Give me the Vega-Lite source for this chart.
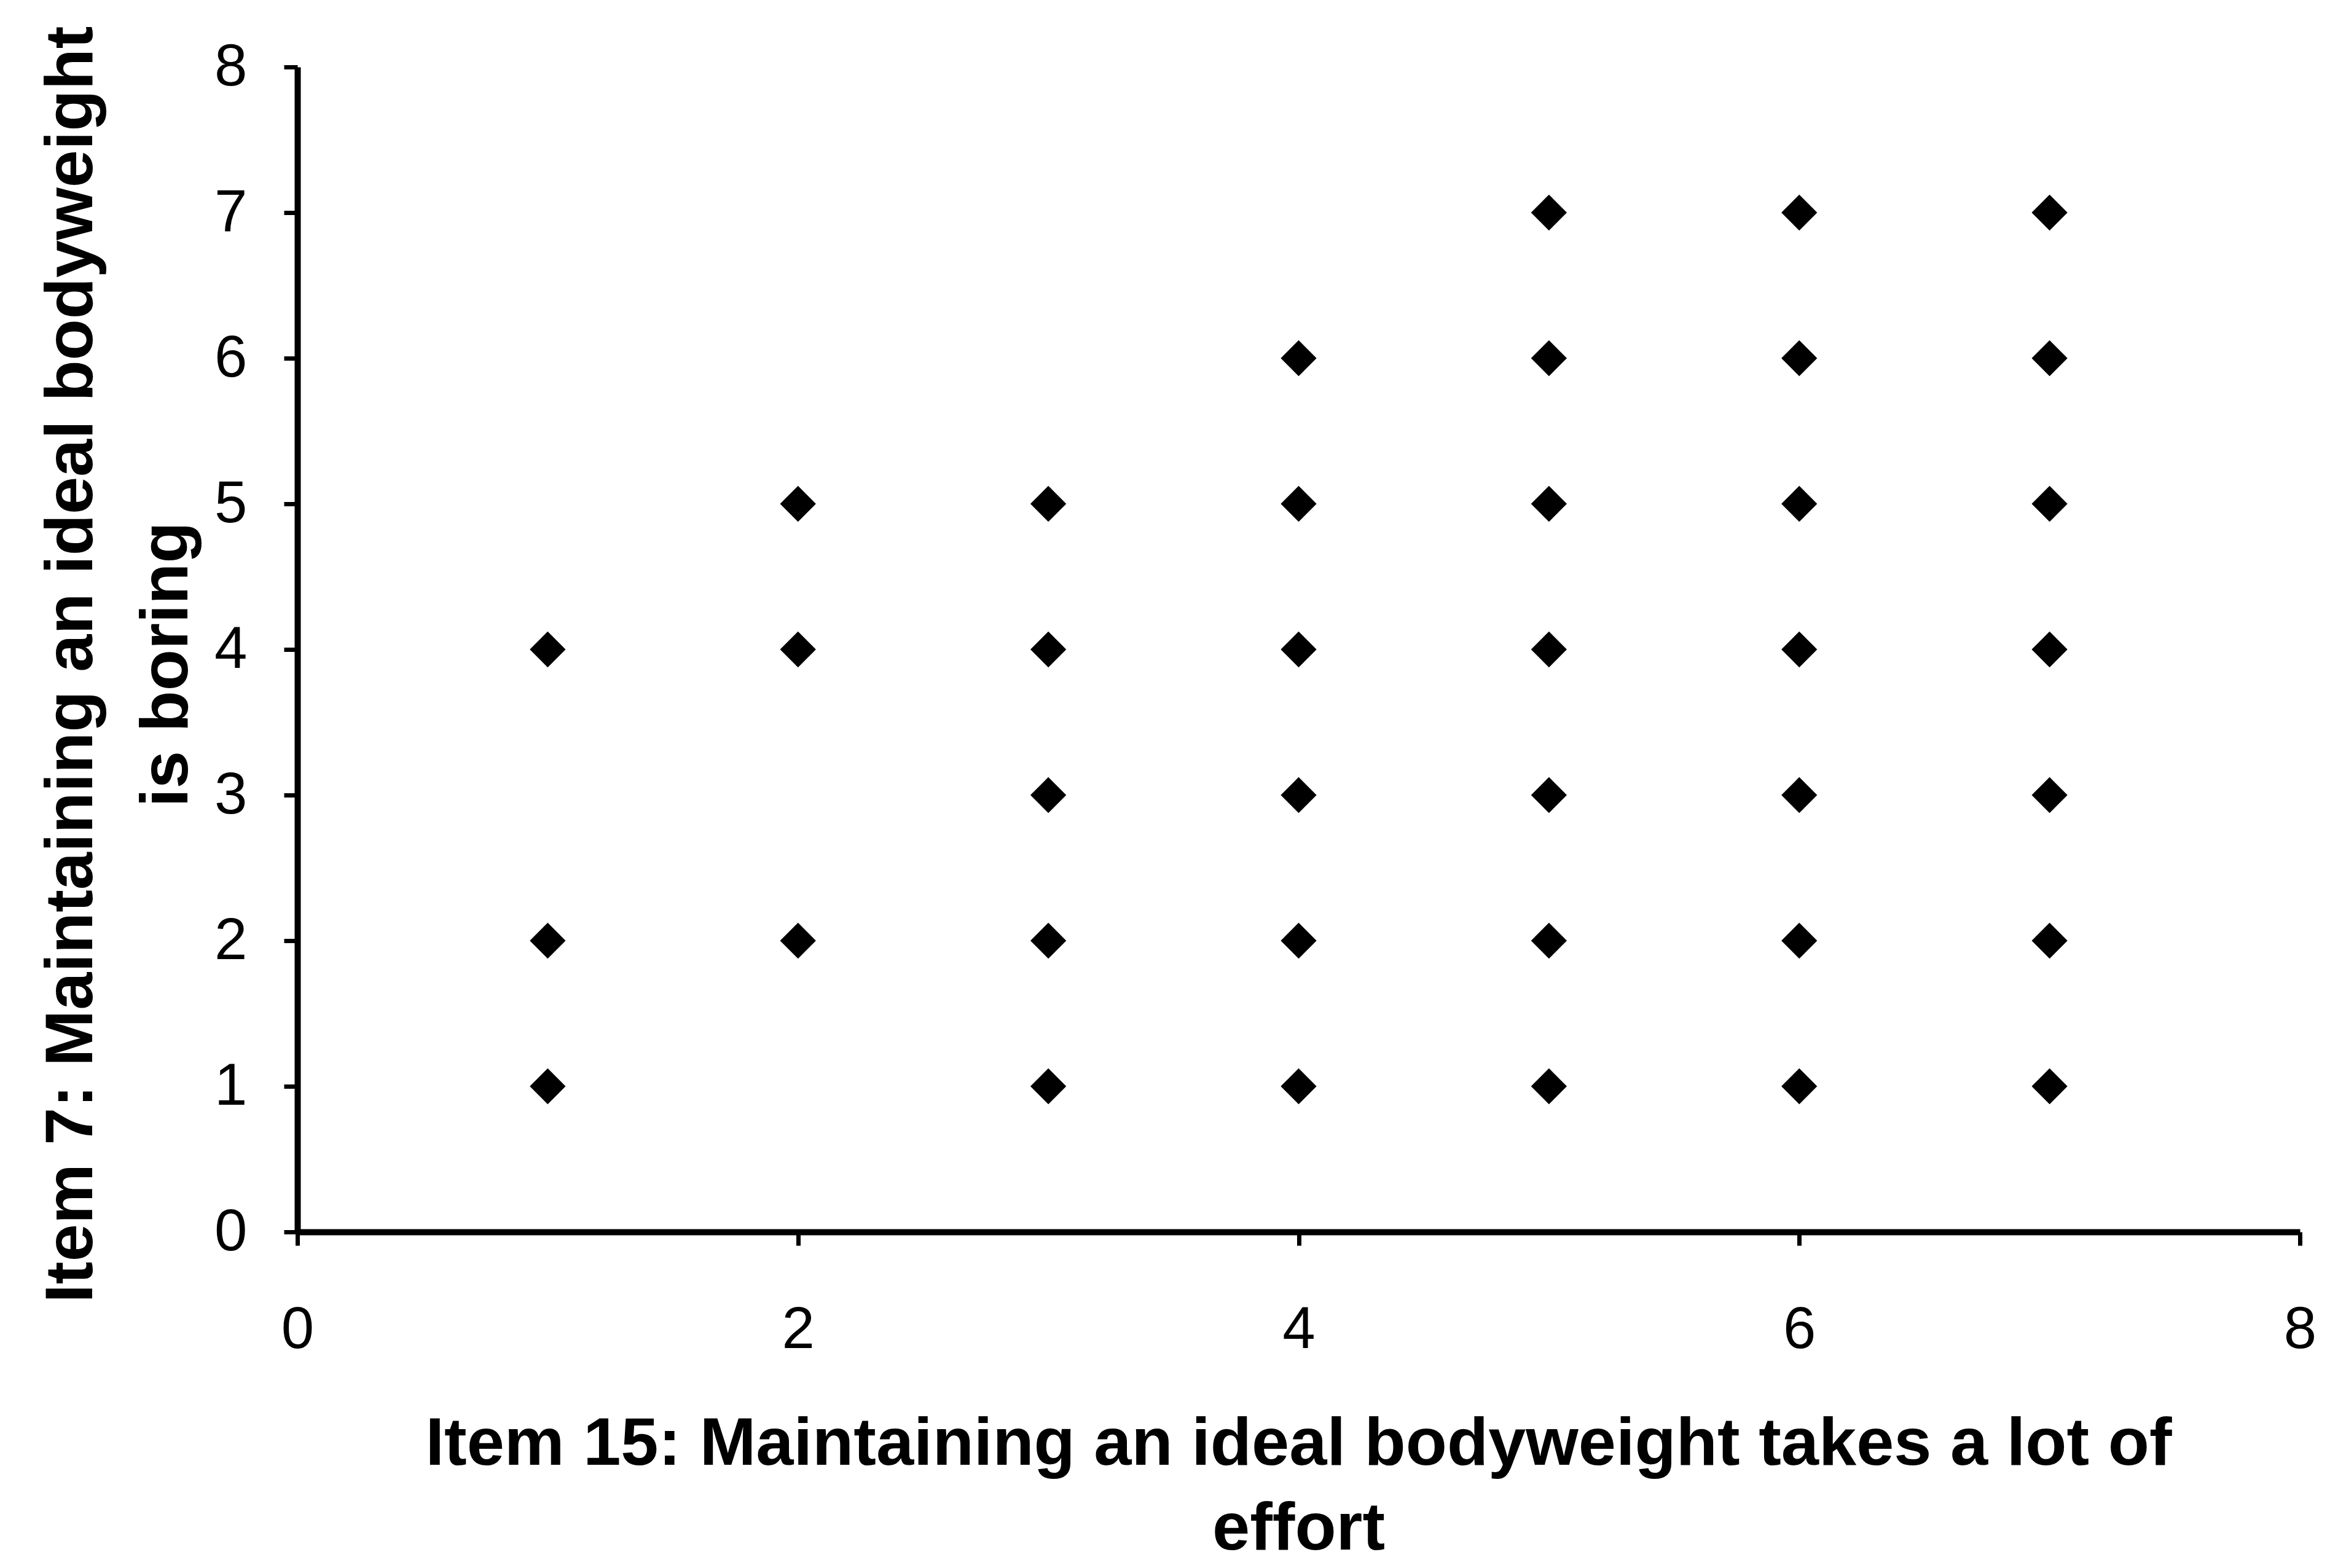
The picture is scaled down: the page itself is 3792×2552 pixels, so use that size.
{
  "$schema": "https://vega.github.io/schema/vega-lite/v6.json",
  "autosize": {"type": "none"},
  "width": 3259,
  "height": 1896,
  "padding": {"left": 484, "top": 109, "right": 49, "bottom": 547},
  "background": "white",
  "config": {
    "view": {"stroke": null},
    "axis": {
      "domainColor": "black",
      "domainWidth": 10,
      "tickColor": "black",
      "tickWidth": 7,
      "tickSize": 22,
      "grid": false,
      "labelFont": "Liberation Sans",
      "labelFontSize": 96,
      "labelColor": "black",
      "titleFont": "Liberation Sans",
      "titleFontWeight": "bold",
      "titleFontSize": 110,
      "titleColor": "black"
    }
  },
  "data": {
    "values": [
      {"x": 1, "y": 1}, {"x": 1, "y": 2}, {"x": 1, "y": 4},
      {"x": 2, "y": 2}, {"x": 2, "y": 4}, {"x": 2, "y": 5},
      {"x": 3, "y": 1}, {"x": 3, "y": 2}, {"x": 3, "y": 3}, {"x": 3, "y": 4}, {"x": 3, "y": 5},
      {"x": 4, "y": 1}, {"x": 4, "y": 2}, {"x": 4, "y": 3}, {"x": 4, "y": 4}, {"x": 4, "y": 5}, {"x": 4, "y": 6},
      {"x": 5, "y": 1}, {"x": 5, "y": 2}, {"x": 5, "y": 3}, {"x": 5, "y": 4}, {"x": 5, "y": 5}, {"x": 5, "y": 6}, {"x": 5, "y": 7},
      {"x": 6, "y": 1}, {"x": 6, "y": 2}, {"x": 6, "y": 3}, {"x": 6, "y": 4}, {"x": 6, "y": 5}, {"x": 6, "y": 6}, {"x": 6, "y": 7},
      {"x": 7, "y": 1}, {"x": 7, "y": 2}, {"x": 7, "y": 3}, {"x": 7, "y": 4}, {"x": 7, "y": 5}, {"x": 7, "y": 6}, {"x": 7, "y": 7}
    ]
  },
  "mark": {"type": "point", "shape": "diamond", "filled": true, "color": "black", "opacity": 1, "size": 3400},
  "encoding": {
    "x": {
      "field": "x",
      "type": "quantitative",
      "scale": {"domain": [0, 8], "nice": false, "zero": true},
      "axis": {
        "values": [0, 2, 4, 6, 8],
        "labelPadding": 90,
        "labelFlush": false,
        "title": ["Item 15: Maintaining an ideal bodyweight takes a lot of", "effort"],
        "titleLineHeight": 138,
        "titleBaseline": "alphabetic",
        "titleX": 1629,
        "titleY": 378,
        "titleAnchor": "middle"
      }
    },
    "y": {
      "field": "y",
      "type": "quantitative",
      "scale": {"domain": [0, 8], "nice": false, "zero": true},
      "axis": {
        "values": [0, 1, 2, 3, 4, 5, 6, 7, 8],
        "labelPadding": 60,
        "labelFlush": false,
        "title": ["Item 7: Maintaining an ideal bodyweight", "is boring"],
        "titleLineHeight": 155,
        "titleBaseline": "middle",
        "titleAngle": -90,
        "titleX": -368,
        "titleY": 972,
        "titleAnchor": "middle"
      }
    }
  }
}
